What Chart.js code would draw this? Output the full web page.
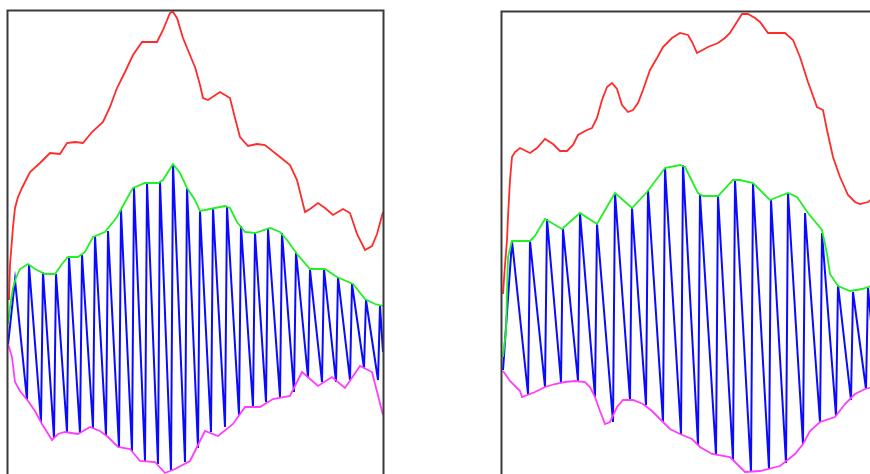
<!DOCTYPE html>
<html>
<head>
<meta charset="utf-8">
<script src="https://cdn.jsdelivr.net/npm/chart.js@4/dist/chart.umd.min.js"></script>
<style>
  html, body { margin: 0; padding: 0; background: #ffffff; overflow: hidden; width: 870px; height: 474px; }
  canvas { position: absolute; top: 0; }
  #left { left: 0; }
  #right { left: 494px; }
</style>
</head>
<body>
<canvas id="left" width="400" height="540"></canvas>
<canvas id="right" width="400" height="540"></canvas>
<script>
// ---------- left panel ----------
const leftRedT = [0.2, 0.4, 1.0, 1.4, 2.0, 2.8, 4.4, 6.4, 8.4, 10.4, 11.8, 13.4, 15.0, 16.8, 19.0, 20.4, 21.8, 23.4, 25.0, 26.8, 29.8, 31.0, 32.4, 33.0, 33.8, 35.0, 36.8, 37.4, 38.4, 39.0, 40.0, 41.2, 42.4, 44.4, 45.4, 46.4, 48.0, 49.8, 51.4, 54.4, 56.4, 57.8, 59.4, 60.4, 62.0, 63.4, 65.0, 67.0, 68.4, 69.8, 71.4, 72.8, 73.8, 75.0];
const leftRedV = [42.2, 49.2, 56.8, 60.6, 62.8, 64.6, 67.8, 69.6, 71.6, 71.4, 73.6, 73.8, 73.6, 75.8, 77.8, 80.8, 84.6, 87.8, 91.2, 93.8, 93.8, 96.2, 99.6, 99.8, 98.6, 94.6, 90.2, 88.8, 85.2, 82.6, 82.2, 83.0, 83.8, 82.6, 78.6, 74.8, 73.0, 73.4, 73.2, 70.8, 69.2, 66.2, 59.8, 60.4, 61.6, 60.6, 59.2, 60.4, 59.6, 55.4, 52.2, 53.0, 55.4, 59.8];

const leftUpperT = [0, 0.6, 1.0, 1.6, 2.4, 4.0, 5.4, 7.4, 9.4, 10.8, 12.0, 14.0, 15.4, 17.0, 19.4, 21.8, 23.4, 25.0, 27.4, 30.0, 31.0, 32.0, 33.0, 34.4, 35.8, 37.4, 38.4, 40.4, 43.4, 44.4, 45.8, 47.4, 49.4, 52.4, 54.4, 55.8, 57.8, 60.4, 63.4, 65.8, 69.0, 71.4, 73.4, 75.0];
const leftUpperV = [37.4, 42.2, 44.6, 46.6, 48.4, 49.4, 48.4, 47.4, 47.4, 49.4, 50.8, 50.8, 51.8, 54.8, 55.8, 58.8, 61.8, 64.6, 65.6, 65.6, 66.2, 67.8, 69.4, 67.6, 64.6, 62.2, 60.0, 60.4, 61.0, 60.6, 57.8, 55.8, 55.6, 56.6, 55.8, 54.2, 51.4, 48.4, 48.4, 46.8, 45.4, 42.4, 41.4, 41.0];

const leftLowerT = [0, 0.8, 1.4, 2.4, 4.0, 5.4, 6.8, 8.8, 10.0, 11.4, 14.0, 16.4, 18.4, 20.0, 22.0, 24.4, 26.4, 29.4, 31.4, 33.4, 36.4, 39.4, 42.0, 45.0, 47.4, 50.4, 53.0, 56.4, 58.8, 62.0, 64.8, 67.4, 70.4, 72.8, 74.8, 75.0];
const leftLowerV = [33.4, 30.8, 25.8, 24.0, 22.0, 20.0, 17.4, 14.2, 15.4, 15.8, 15.4, 16.8, 16.0, 14.8, 12.8, 12.4, 10.0, 9.8, 7.6, 8.4, 10.0, 16.0, 15.0, 17.4, 20.8, 20.8, 22.4, 23.0, 27.8, 25.0, 26.8, 24.6, 29.0, 27.8, 20.0, 19.2];

// oscillation: crest of each cycle, then the foot it slides down to
const leftPeakT = [1.4, 4.2, 7.0, 9.6, 12.2, 14.8, 17.4, 20.0, 22.6, 25.2, 27.8, 30.4, 33.0, 35.8, 38.4, 41.0, 43.8, 46.6, 49.4, 52.0, 54.8, 57.6, 60.4, 63.2, 66.0, 68.8, 71.6, 74.4];
const leftPeakV = [46.2, 49.2, 47.8, 47.4, 50.8, 51.2, 55.0, 56.0, 60.2, 64.6, 65.6, 65.8, 69.4, 64.6, 60.0, 60.6, 60.8, 57.0, 55.6, 56.4, 55.6, 51.8, 48.2, 48.4, 46.8, 45.4, 42.2, 41.0];
const leftTroughT = [3.8, 6.6, 9.2, 11.8, 14.4, 17.0, 19.6, 22.2, 24.8, 27.4, 30.0, 32.6, 35.4, 38.0, 40.6, 43.4, 46.2, 49.0, 51.6, 54.4, 57.2, 60.0, 62.8, 65.6, 68.4, 71.2, 74.0];
const leftTroughV = [22.2, 17.8, 14.6, 15.8, 15.6, 16.6, 15.2, 12.8, 12.0, 10.0, 9.4, 8.0, 9.8, 12.6, 15.8, 16.8, 19.2, 20.8, 21.8, 22.8, 23.8, 26.6, 25.8, 25.8, 26.2, 28.6, 26.2];
const leftSignalStart = [0, 33.2];
const leftSignalEnd = [75.0, 31.8];

// ---------- right panel ----------
const rightRedT = [0.2, 0.6, 1.0, 1.2, 1.6, 2.0, 2.6, 3.6, 5.6, 7.0, 8.6, 10.2, 11.6, 13.0, 14.2, 15.2, 17.0, 18.0, 19.0, 20.0, 21.0, 22.0, 23.0, 24.0, 25.2, 26.2, 27.2, 28.2, 29.6, 31.0, 32.2, 34.0, 35.6, 37.2, 38.0, 39.0, 41.2, 43.2, 44.6, 45.6, 46.6, 48.0, 49.2, 50.6, 51.6, 53.2, 56.6, 58.2, 59.6, 61.2, 63.0, 64.2, 65.0, 66.2, 67.6, 69.2, 70.6, 71.6, 73.2, 75.0];
const rightRedV = [43.6, 49.4, 54.4, 59.0, 66.4, 71.0, 72.0, 72.8, 71.8, 72.8, 74.6, 73.6, 72.2, 72.2, 73.4, 75.4, 76.4, 76.8, 78.8, 82.4, 85.0, 85.8, 84.6, 81.4, 80.0, 80.4, 81.8, 84.4, 88.4, 90.8, 93.0, 94.8, 95.8, 95.4, 94.0, 91.8, 93.0, 93.8, 94.8, 95.8, 97.4, 99.6, 99.6, 98.8, 98.0, 95.8, 95.8, 94.4, 91.0, 86.0, 81.0, 80.4, 76.4, 71.0, 67.0, 63.4, 62.0, 61.6, 62.0, 63.4];

const rightUpperT = [0.2, 0.8, 1.2, 2.0, 3.6, 5.6, 6.6, 8.6, 12.0, 15.6, 19.0, 22.6, 26.0, 29.0, 32.6, 35.6, 36.6, 39.2, 40.2, 43.2, 46.2, 47.6, 50.2, 53.6, 57.2, 59.0, 61.2, 64.0, 65.0, 65.6, 67.2, 69.6, 72.0, 75.0];
const rightUpperV = [31.0, 36.2, 51.0, 54.2, 54.2, 54.2, 55.2, 58.6, 56.6, 59.8, 57.6, 63.8, 60.8, 64.0, 68.8, 69.4, 69.0, 63.8, 63.2, 63.2, 66.4, 66.4, 65.8, 62.4, 63.8, 63.0, 59.8, 56.4, 51.6, 47.6, 45.2, 44.2, 44.6, 45.6];

const rightLowerT = [0.2, 1.6, 3.6, 4.0, 6.6, 8.6, 10.6, 12.6, 14.6, 16.6, 17.6, 18.6, 19.6, 20.6, 21.6, 23.0, 24.2, 26.2, 28.2, 30.0, 31.6, 33.6, 35.6, 38.0, 39.6, 42.0, 45.6, 47.0, 48.6, 51.6, 55.6, 58.6, 60.2, 61.6, 63.6, 66.6, 68.6, 70.6, 72.6, 75.0];
const rightLowerV = [28.2, 26.2, 24.2, 23.0, 24.0, 25.0, 25.6, 26.0, 26.2, 26.0, 25.0, 23.0, 20.2, 17.6, 18.0, 21.0, 22.4, 22.4, 21.6, 20.2, 18.6, 16.6, 15.6, 14.6, 13.0, 11.6, 11.0, 9.6, 8.0, 8.2, 9.2, 11.6, 13.6, 16.2, 18.0, 19.0, 21.6, 23.6, 24.6, 25.2];

const rightPeakT = [2.0, 5.6, 9.0, 12.2, 15.6, 19.0, 22.6, 26.0, 29.2, 32.6, 36.2, 39.6, 43.2, 46.6, 50.2, 53.8, 57.2, 60.6, 64.0, 67.2, 70.2, 73.2];
const rightPeakV = [54.2, 54.2, 58.6, 56.6, 59.8, 57.6, 63.8, 60.8, 64.4, 68.8, 69.4, 63.4, 63.2, 66.4, 65.6, 62.4, 63.8, 59.8, 55.8, 45.4, 44.0, 44.8];
const rightTroughT = [5.2, 8.6, 11.8, 15.2, 18.6, 22.2, 25.6, 28.8, 32.2, 35.8, 39.2, 42.8, 46.2, 49.8, 53.4, 56.8, 60.2, 63.6, 66.8, 69.8, 72.8];
const rightTroughV = [23.6, 25.0, 26.0, 26.2, 23.0, 18.0, 22.4, 21.4, 18.0, 15.6, 13.4, 11.4, 10.4, 8.0, 8.6, 9.8, 13.6, 18.0, 19.2, 22.4, 24.6];
const rightSignalStart = [0.2, 28.4];
const rightSignalEnd = [75.0, 24.8];

// ---------- helpers ----------
function pairs(ts, vs) {
  return ts.map((t, i) => ({ x: t, y: vs[i] }));
}

// trace: start, then each crest followed by the foot before the next crest, then end
function signal(start, peakT, peakV, troughT, troughV, end) {
  const pts = [{ x: start[0], y: start[1] }];
  peakT.forEach((t, i) => {
    pts.push({ x: t, y: peakV[i] });
    if (i < troughT.length) pts.push({ x: troughT[i], y: troughV[i] });
  });
  pts.push({ x: end[0], y: end[1] });
  return pts;
}

const frame = {
  id: 'frame',
  afterDraw(chart) {
    const { ctx, chartArea: a } = chart;
    ctx.save();
    ctx.strokeStyle = '#3a3a3a';
    ctx.lineWidth = 2;
    ctx.strokeRect(a.left - 0.5, a.top - 0.5, a.right - a.left + 1, a.bottom - a.top + 1);
    ctx.restore();
  }
};

function makePanel(id, pad, red, upper, lower, sig) {
  const line = (data, color, w, order) => ({
    data, borderColor: color, borderWidth: w, pointRadius: 0,
    tension: 0, fill: false, order
  });
  return new Chart(document.getElementById(id), {
    type: 'line',
    data: {
      datasets: [
        line(red, '#ff2b2b', 1.8, 0),
        line(upper, '#22f022', 1.8, 1),
        line(lower, '#ff3cff', 1.8, 2),
        line(sig, '#0a0aff', 2, 3)
      ]
    },
    options: {
      responsive: false,
      animation: false,
      devicePixelRatio: 1,
      layout: { padding: pad },
      plugins: { legend: { display: false }, tooltip: { enabled: false } },
      scales: {
        x: { type: 'linear', min: 0, max: 75, display: false },
        y: { type: 'linear', min: 0, max: 100, display: false }
      }
    },
    plugins: [frame]
  });
}

makePanel('left', { left: 8, top: 11, right: 17, bottom: 29 },
  pairs(leftRedT, leftRedV),
  pairs(leftUpperT, leftUpperV),
  pairs(leftLowerT, leftLowerV),
  signal(leftSignalStart, leftPeakT, leftPeakV, leftTroughT, leftTroughV, leftSignalEnd));

makePanel('right', { left: 8, top: 12, right: 17, bottom: 28 },
  pairs(rightRedT, rightRedV),
  pairs(rightUpperT, rightUpperV),
  pairs(rightLowerT, rightLowerV),
  signal(rightSignalStart, rightPeakT, rightPeakV, rightTroughT, rightTroughV, rightSignalEnd));
</script>
</body>
</html>
